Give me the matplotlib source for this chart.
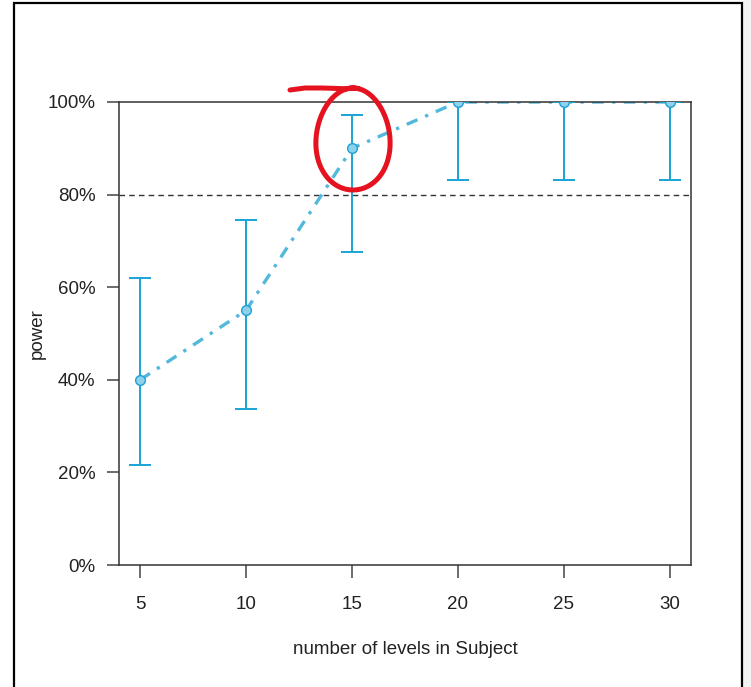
import numpy as np
import matplotlib
matplotlib.use("Agg")
import matplotlib.pyplot as plt
from matplotlib.patches import Rectangle
from matplotlib.lines import Line2D
from matplotlib.ticker import FuncFormatter

# power curve: levels of Subject vs estimated power with confidence limits
niveis = [5, 10, 15, 20, 25, 30]
poder = [0.40, 0.55, 0.90, 1.00, 1.00, 1.00]
limite_inf = [0.217, 0.338, 0.677, 0.832, 0.832, 0.832]
limite_sup = [0.619, 0.746, 0.973, 1.00, 1.00, 1.00]
alvo = 0.80

plt.rcParams['font.family'] = ['Liberation Sans', 'DejaVu Sans']

W, H = 751, 687
fig = plt.figure(figsize=(W / 100, H / 100), dpi=100, facecolor='white')

# faixa cinza à direita e moldura preta em volta da figura
fig.patches.append(Rectangle((743 / W, 0), 1, 1, transform=fig.transFigure,
                             facecolor='#f3f3f3', edgecolor='none', zorder=0))
fig.patches.append(Rectangle((14 / W, -0.05), (742 - 14) / W, 1.05 - 3 / H,
                             transform=fig.transFigure, fill=False,
                             edgecolor='black', linewidth=1.6, zorder=0))

ax = fig.add_axes([119 / W, 1 - 565 / H, (691 - 119) / W, (565 - 102) / H])

cor_barra = '#1aa3d6'
cor_linha = '#52b8dc'

ax.axhline(alvo, color='#333333', linestyle=(0, (4, 3)), linewidth=1.0, zorder=1)

ax.plot(niveis, poder, color=cor_linha, linestyle=(0, (3.5, 2.5, 1, 2.5)),
        linewidth=2.4, zorder=2)
ax.errorbar(niveis, poder,
            yerr=[np.subtract(poder, limite_inf), np.subtract(limite_sup, poder)],
            fmt='none', ecolor=cor_barra, elinewidth=1.4, capsize=8,
            capthick=1.4, zorder=3)
ax.plot(niveis, poder, 'o', markersize=7, markerfacecolor='#8fd0ea',
        markeredgecolor=cor_barra, markeredgewidth=1.0, zorder=4)

ax.set_xlim(4, 31)
ax.set_ylim(0, 1)
ax.set_xticks(niveis)
ax.set_yticks([0, 0.2, 0.4, 0.6, 0.8, 1.0])
ax.yaxis.set_major_formatter(FuncFormatter(lambda v, p: f"{v * 100:.0f}%"))

for s in ax.spines.values():
    s.set_color('#333333')
    s.set_linewidth(1.1)
ax.tick_params(direction='out', length=9, width=1.1, color='#444444',
               labelsize=13.5, labelcolor='#222222')
ax.tick_params(axis='x', pad=13)
ax.tick_params(axis='y', pad=8)

ax.set_xlabel('number of levels in Subject', fontsize=13.5, color='#222222')
ax.xaxis.set_label_coords(0.5, -(650 - 565) / 463, transform=ax.transAxes)
ax.xaxis.label.set_va('center')
ax.set_ylabel('power', fontsize=13.5, color='#222222')
ax.yaxis.set_label_coords(-(119 - 37) / 572, 0.5)
ax.yaxis.label.set_va('center')

# anotação vermelha feita à mão em volta do ponto de 15 níveis
t = np.linspace(np.deg2rad(100), np.deg2rad(100 - 380), 120)
cx, cy, rx, ry = 353, 139, 37, 51
px = cx + rx * np.cos(t) * (1 - 0.08 * np.sin(t))
py = cy - ry * np.sin(t)
px = np.concatenate([[290, 305, 322], px])
py = np.concatenate([[90, 88, 88], py])
fig.lines.append(Line2D(px / W, 1 - py / H, transform=fig.transFigure,
                        color='#e5131f', linewidth=3.6, solid_capstyle='round',
                        solid_joinstyle='round', zorder=10))

fig.savefig('out.png', dpi=100)
